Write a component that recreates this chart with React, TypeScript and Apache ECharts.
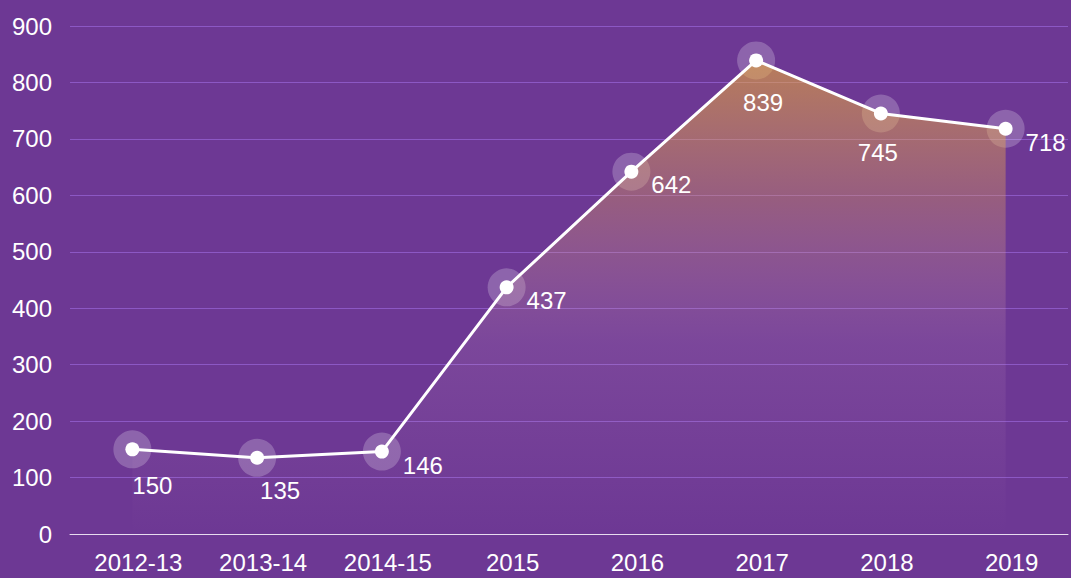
import React, { useEffect, useRef } from "react";
import * as echarts from "echarts";

const categories = ["2012-13", "2013-14", "2014-15", "2015", "2016", "2017", "2018", "2019"];
const values = [150, 135, 146, 437, 642, 839, 745, 718];
const yTicks = { min: 0, max: 900, interval: 100 };

// label offsets (style only)
const labelOffsets: [number, number][] = [
  [20, 36], [23, 33], [41, 14], [40, 13], [40, 13], [7, 42], [-3, 39], [40, 14],
];

export default function App() {
  const ref = useRef<HTMLDivElement>(null);
  useEffect(() => {
    if (!ref.current) return;
    const chart = echarts.init(ref.current, null, { renderer: "svg" });
    const font = "'Liberation Sans', Arial, Helvetica, sans-serif";
    chart.setOption({
      animation: false,
      backgroundColor: "#6d3894",
      grid: { left: 70, right: 3, top: 26, bottom: 44 },
      xAxis: {
        type: "category",
        data: categories,
        boundaryGap: true,
        axisLine: { lineStyle: { color: "#e8dcef", width: 1 } },
        axisTick: { show: false },
        axisLabel: {
          color: "#ffffff",
          fontSize: 24,
          fontFamily: font,
          margin: 16,
          padding: [0, 0, 0, 12],
        },
      },
      yAxis: {
        type: "value",
        min: yTicks.min,
        max: yTicks.max,
        interval: yTicks.interval,
        axisLine: { show: false },
        axisTick: { show: false },
        axisLabel: { color: "#ffffff", fontSize: 24, fontFamily: font, margin: 18 },
        splitLine: { lineStyle: { color: "#8c58c4", width: 1 } },
      },
      series: [
        {
          type: "scatter",
          data: values,
          symbolSize: 38,
          itemStyle: { color: "rgba(255,255,255,0.28)" },
          z: 1,
          silent: true,
        },
        {
          type: "line",
          data: values.map((v, i) => ({
            value: v,
            label: {
              show: true,
              position: "inside",
              offset: labelOffsets[i],
              color: "#ffffff",
              fontSize: 24,
              fontFamily: font,
            },
          })),
          symbol: "circle",
          symbolSize: 14,
          itemStyle: { color: "#ffffff" },
          lineStyle: { color: "#ffffff", width: 3 },
          areaStyle: {
            color: new echarts.graphic.LinearGradient(0, 0, 0, 1, [
              { offset: 0, color: "rgba(240,176,48,0.82)" },
              { offset: 0.3, color: "rgba(226,160,92,0.5)" },
              { offset: 0.6, color: "rgba(220,170,200,0.18)" },
              { offset: 1, color: "rgba(220,170,200,0)" },
            ]),
          },
          z: 2,
        },
      ],
    });
    return () => chart.dispose();
  }, []);
  return <div ref={ref} style={{ width: 1071, height: 578, position: "absolute", left: 0, top: 0 }} />;
}
